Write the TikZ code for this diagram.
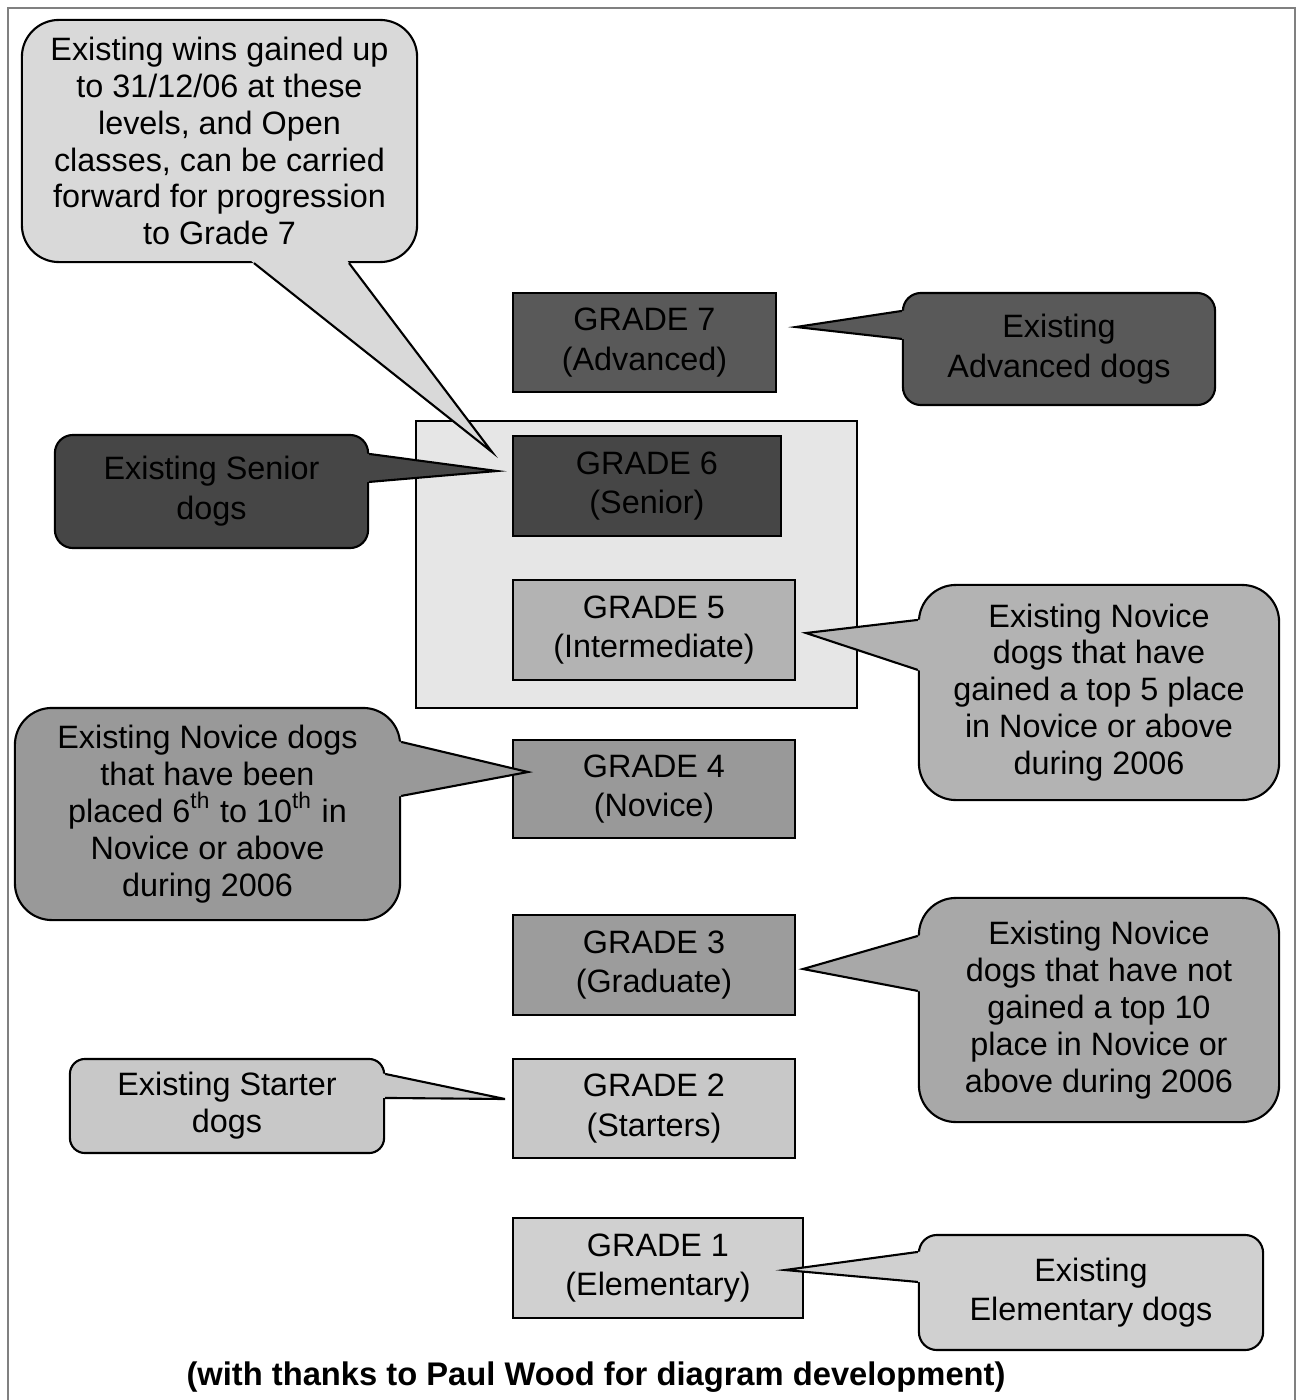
\documentclass[tikz,border=0pt]{standalone}
\usepackage{fontspec}
\setmainfont{Liberation Sans}
\usepackage{xcolor}
\usetikzlibrary{calc}

\definecolor{wingrey}{HTML}{D9D9D9}
\definecolor{boxgrey}{HTML}{E6E6E6}
\definecolor{advgrey}{HTML}{595959}
\definecolor{sengrey}{HTML}{464646}
\definecolor{intgrey}{HTML}{B3B3B3}
\definecolor{novgrey}{HTML}{999999}
\definecolor{gradgrey}{HTML}{9C9C9C}
\definecolor{notgrey}{HTML}{A8A8A8}
\definecolor{stagrey}{HTML}{C8C8C8}
\definecolor{elegrey}{HTML}{D0D0D0}

\newcommand{\diagfont}{\fontsize{9.2}{10.5}\selectfont}
\newcommand{\widefont}{\fontsize{9.2}{11.3}\selectfont}

% callout tail: colour, callout node, corner, first shift, second shift, tip
\newcommand{\calltail}[6]{%
  \coordinate (ta) at ([#4]#2.#3);
  \coordinate (tb) at ([#5]#2.#3);
  \fill[#1] ($(ta)!-0.06cm!(#6)$) -- (#6) -- ($(tb)!-0.06cm!(#6)$) -- cycle;
  \path[tailline] (ta) -- (#6) -- (tb);}

\begin{document}
\begin{tikzpicture}[x=0.01cm, y=-0.01cm]
\tikzset{
  grade/.style = {rectangle, draw, line width=0.6pt, inner sep=0pt, align=center, font=\widefont},
  bubble/.style = {rectangle, draw, line width=0.6pt, inner sep=0pt, align=center, rounded corners=0.37cm, font=\diagfont},
  small bubble/.style = {bubble, rounded corners=0.18cm, font=\widefont},
  tailline/.style = {draw, line width=0.6pt, line join=miter},
  frame/.style = {draw=black!50, line width=0.7pt}
}
\useasboundingbox (0,0) rectangle (1297,1400);
\path [frame] (8,1400) -- (8,8) -- (1295,8) -- (1295,1400);

% box round grades 5 and 6
\node [draw, fill=boxgrey, line width=0.6pt, minimum width=4.41cm, minimum height=2.87cm] (levels) at (636.5,564.5) {};

% grades
\node [grade, fill=advgrey, minimum width=2.63cm, minimum height=0.99cm] (g7) at (644.5,342.5) {GRADE 7\\(Advanced)};
\node [grade, fill=sengrey, minimum width=2.68cm, minimum height=1.00cm] (g6) at (647,486) {GRADE 6\\(Senior)};
\node [grade, fill=intgrey, minimum width=2.82cm, minimum height=1.00cm] (g5) at (654,630) {GRADE 5\\(Intermediate)};
\node [grade, fill=novgrey, minimum width=2.82cm, minimum height=0.98cm] (g4) at (654,789) {GRADE 4\\(Novice)};
\node [grade, fill=gradgrey, minimum width=2.82cm, minimum height=1.00cm] (g3) at (654,965) {GRADE 3\\(Graduate)};
\node [grade, fill=stagrey, minimum width=2.82cm, minimum height=0.99cm] (g2) at (654,1108.5) {GRADE 2\\(Starters)};
\node [grade, fill=elegrey, minimum width=2.90cm, minimum height=1.00cm] (g1) at (658,1268) {GRADE 1\\(Elementary)};

% callouts
\node [bubble, fill=wingrey, minimum width=3.95cm, minimum height=2.42cm] (wins) at (219.5,141) {Existing wins gained up\\to 31/12/06 at these\\levels, and Open\\classes, can be carried\\forward for progression\\to Grade 7};
\node [small bubble, fill=advgrey, minimum width=3.12cm, minimum height=1.12cm] (advDogs) at (1059,349) {Existing\\Advanced dogs};
\node [small bubble, fill=sengrey, minimum width=3.13cm, minimum height=1.13cm] (senDogs) at (211.5,491.5) {Existing Senior\\dogs};
\node [bubble, fill=intgrey, minimum width=3.60cm, minimum height=2.15cm] (topFive) at (1099,692.5) {Existing Novice\\dogs that have\\gained a top 5 place\\in Novice or above\\during 2006};
\node [bubble, fill=novgrey, minimum width=3.85cm, minimum height=2.12cm] (sixTen) at (207.5,814) {Existing Novice dogs\\that have been\\placed 6\textsuperscript{th} to 10\textsuperscript{th} in\\Novice or above\\during 2006};
\node [bubble, fill=notgrey, minimum width=3.60cm, minimum height=2.24cm] (notTen) at (1099,1010) {Existing Novice\\dogs that have not\\gained a top 10\\place in Novice or\\above during 2006};
\node [small bubble, fill=stagrey, rounded corners=0.15cm, font=\diagfont, minimum width=3.14cm, minimum height=0.94cm] (staDogs) at (227,1106) {Existing Starter\\dogs};
\node [small bubble, fill=elegrey, minimum width=3.44cm, minimum height=1.15cm] (eleDogs) at (1091,1292.5) {Existing\\Elementary dogs};

% tail tips
\coordinate (winsTip) at (492,452);
\coordinate (advTip) at (796,327);
\coordinate (senTip) at (497,471);
\coordinate (fiveTip) at (806,633);
\coordinate (sixTip) at (528,772);
\coordinate (notTip) at (803,969);
\coordinate (staTip) at (505,1099);
\coordinate (eleTip) at (785,1270);

% tails
\calltail{wingrey}{wins}{south west}{xshift=2.33cm}{xshift=3.28cm}{winsTip}
\calltail{advgrey}{advDogs}{north west}{yshift=-0.19cm}{yshift=-0.47cm}{advTip}
\calltail{sengrey}{senDogs}{north east}{yshift=-0.20cm}{yshift=-0.48cm}{senTip}
\calltail{intgrey}{topFive}{north west}{yshift=-0.36cm}{yshift=-0.86cm}{fiveTip}
\calltail{novgrey}{sixTen}{north east}{yshift=-0.35cm}{yshift=-0.89cm}{sixTip}
\calltail{notgrey}{notTen}{north west}{yshift=-0.39cm}{yshift=-0.94cm}{notTip}
\calltail{stagrey}{staDogs}{north east}{yshift=-0.16cm}{yshift=-0.40cm}{staTip}
\calltail{elegrey}{eleDogs}{north west}{yshift=-0.18cm}{yshift=-0.48cm}{eleTip}

\node [font=\bfseries\fontsize{9.3}{11}\selectfont] (thanks) at (596,1377) {(with thanks to Paul Wood for diagram development)};
\end{tikzpicture}
\end{document}
